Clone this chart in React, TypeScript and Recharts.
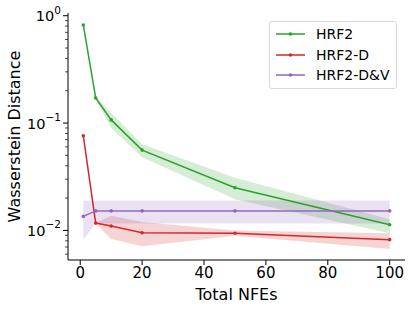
import React from "react";
import {
  ComposedChart,
  Line,
  Area,
  XAxis,
  YAxis,
  Label,
} from "recharts";

// Total NFEs sampled
const nfes = [1, 5, 10, 20, 50, 100];

// HRF2 (mean, lower, upper)
const hrf2 = [0.82, 0.171, 0.107, 0.056, 0.025, 0.0113];
const hrf2Lo = [0.82, 0.168, 0.09, 0.048, 0.0195, 0.0094];
const hrf2Hi = [0.82, 0.174, 0.124, 0.0635, 0.031, 0.0127];

// HRF2-D
const hrf2d = [0.076, 0.0117, 0.011, 0.0095, 0.0094, 0.0082];
const hrf2dLo = [0.076, 0.0116, 0.0083, 0.0071, 0.0089, 0.0067];
const hrf2dHi = [0.076, 0.0118, 0.0137, 0.012, 0.01, 0.0094];

// HRF2-D&V
const hrf2dv = [0.0135, 0.0152, 0.0152, 0.0152, 0.0152, 0.0152];
const hrf2dvLo = [0.0082, 0.0116, 0.0116, 0.0116, 0.0116, 0.0116];
const hrf2dvHi = [0.019, 0.019, 0.019, 0.019, 0.019, 0.019];

const xTicks = [0, 20, 40, 60, 80, 100];
const majorTicks = [0.01, 0.1, 1];
const minorTicks = [
  0.006, 0.007, 0.008, 0.009,
  0.02, 0.03, 0.04, 0.05, 0.06, 0.07, 0.08, 0.09,
  0.2, 0.3, 0.4, 0.5, 0.6, 0.7, 0.8, 0.9,
];
const majorLabels: Record<string, string> = { "0.01": "\u22122", "0.1": "\u22121", "1": "0" };

const SERIES = [
  { key: "hrf2", name: "HRF2", color: "#2ca02c" },
  { key: "hrf2d", name: "HRF2-D", color: "#d62728" },
  { key: "hrf2dv", name: "HRF2-D&V", color: "#9467bd" },
];

const data = nfes.map((x, i) => ({
  x,
  hrf2: hrf2[i],
  hrf2Band: [hrf2Lo[i], hrf2Hi[i]],
  hrf2d: hrf2d[i],
  hrf2dBand: [hrf2dLo[i], hrf2dHi[i]],
  hrf2dv: hrf2dv[i],
  hrf2dvBand: [hrf2dvLo[i], hrf2dvHi[i]],
}));

const FONT = "'DejaVu Sans', sans-serif";

// axis line sits at x = 68 (YAxis width, zero left margin)
const AXIS_X = 68;

function YTick({ y, payload }: any) {
  const v = payload.value;
  const label = majorLabels[String(v)];
  const major = label !== undefined;
  return (
    <g>
      <line x1={AXIS_X - (major ? 5 : 3)} x2={AXIS_X} y1={y} y2={y} stroke="#000" strokeWidth={major ? 1 : 0.7} />
      {major && (
        <text x={AXIS_X - 7} y={y + 5.5} textAnchor="end" fontSize={14.5} fontFamily={FONT} fill="#000">
          <tspan>10</tspan>
          <tspan dy={-7.5} fontSize={10.5}>{label}</tspan>
        </text>
      )}
    </g>
  );
}

function LegendBox() {
  return (
    <div
      style={{
        position: "absolute",
        left: 269,
        top: 21,
        width: 128,
        height: 68,
        boxSizing: "border-box",
        border: "1px solid #d9d9d9",
        borderRadius: 3,
        background: "rgba(255,255,255,0.8)",
        fontFamily: FONT,
        fontSize: 14,
        color: "#000",
        paddingTop: 2,
      }}
    >
      {SERIES.map((s) => (
        <div key={s.key} style={{ display: "flex", alignItems: "center", height: 20.5 }}>
          <svg width={46} height={10} style={{ flex: "none" }}>
            <line x1={6} x2={35} y1={5} y2={5} stroke={s.color} strokeWidth={1.5} />
            <circle cx={20.5} cy={5} r={1.8} fill={s.color} />
          </svg>
          <span>{s.name}</span>
        </div>
      ))}
    </div>
  );
}

export default function App() {
  return (
    <div style={{ position: "absolute", left: 0, top: 0, width: 415, height: 311, background: "#fff" }}>
      <ComposedChart width={415} height={311} data={data} margin={{ top: 13, right: 10, bottom: 0, left: 0 }}>
        <XAxis
          dataKey="x"
          type="number"
          domain={[-3.95, 104.95]}
          ticks={xTicks}
          allowDataOverflow
          height={51}
          stroke="#000"
          tickSize={5}
          tickMargin={2}
          tick={{ fill: "#000", fontSize: 15, fontFamily: FONT }}
        >
          <Label value="Total NFEs" position="insideBottom" offset={11} fill="#000" fontSize={16} fontFamily={FONT} />
        </XAxis>
        <YAxis
          type="number"
          scale="log"
          domain={[0.0053, 1.06]}
          allowDataOverflow
          ticks={[...minorTicks, ...majorTicks]}
          interval={0}
          width={AXIS_X}
          stroke="#000"
          tickLine={false}
          tickSize={0}
          tickMargin={0}
          tick={<YTick />}
        >
          <Label
            value="Wasserstein Distance"
            angle={-90}
            position="insideLeft"
            offset={14}
            style={{ textAnchor: "middle" }}
            fill="#000"
            fontSize={16}
            fontFamily={FONT}
          />
        </YAxis>
        {SERIES.map((s) => (
          <Area
            key={s.key + "Band"}
            dataKey={s.key + "Band"}
            type="linear"
            stroke="none"
            fill={s.color}
            fillOpacity={0.2}
            isAnimationActive={false}
            legendType="none"
            activeDot={false}
          />
        ))}
        {SERIES.map((s) => (
          <Line
            key={s.key}
            dataKey={s.key}
            name={s.name}
            type="linear"
            stroke={s.color}
            strokeWidth={1.5}
            dot={{ r: 1.8, fill: s.color, stroke: "none" }}
            activeDot={false}
            isAnimationActive={false}
          />
        ))}
      </ComposedChart>
      <LegendBox />
    </div>
  );
}
